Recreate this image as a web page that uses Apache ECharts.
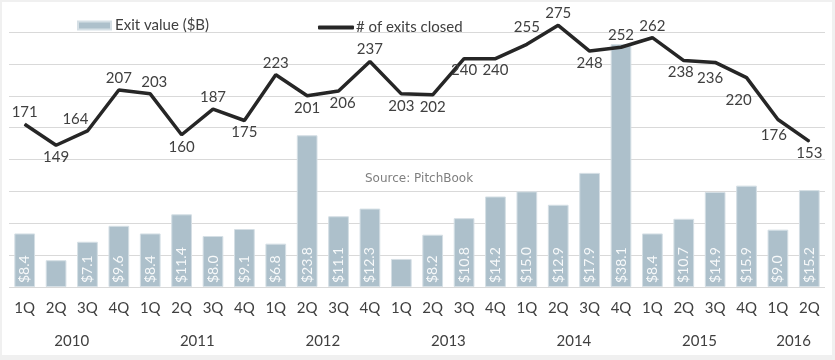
<!DOCTYPE html>
<html>
<head>
<meta charset="utf-8">
<script src="https://cdn.jsdelivr.net/npm/echarts@6/dist/echarts.min.js"></script>
<style>
html,body{margin:0;padding:0;background:#f0f0f0;width:835px;height:360px;overflow:hidden;}
#chart{position:absolute;left:2px;top:2px;width:830px;height:353px;background:#fff;}
</style>
</head>
<body>
<div id="chart"></div>
<script>
// ---- data ----
const quarters = ['1Q','2Q','3Q','4Q','1Q','2Q','3Q','4Q','1Q','2Q','3Q','4Q','1Q','2Q','3Q','4Q','1Q','2Q','3Q','4Q','1Q','2Q','3Q','4Q','1Q','2Q'];
const years = ['2010','2011','2012','2013','2014','2015','2016'];
const quartersPerYear = [4,4,4,4,4,4,2];
const exitValue = [8.4,4.2,7.1,9.6,8.4,11.4,8.0,9.1,6.8,23.8,11.1,12.3,4.4,8.2,10.8,14.2,15.0,12.9,17.9,38.1,8.4,10.7,14.9,15.9,9.0,15.2];
const exitsClosed = [171,149,164,207,203,160,187,175,223,201,206,237,203,202,240,240,255,275,248,252,262,238,236,220,176,153];

// ---- label placement (style) ----
const linePos = ['top','bottom','top','top','top','bottom','top','bottom','top','bottom','bottom','top','bottom','bottom','bottom','bottom','top','top','bottom','top','top','bottom','bottom','bottom','bottom','bottom'];
const lineOff = {2:[-12,0],4:[4,0],10:[4,0],16:[0,-5],21:[-3,0],22:[-5,4],23:[-8,10],24:[-4,4]};

// year centres on a continuous 0..N axis
const yearCenter = {};
let acc = 0;
quartersPerYear.forEach((n, i) => { yearCenter[acc + n / 2] = years[i]; acc += n; });

const FONT = 'Lato';
const chart = echarts.init(document.getElementById('chart'), null, {renderer: 'canvas'});
chart.setOption({
  animation: false,
  textStyle: {fontFamily: FONT},
  title: {
    text: 'Source: PitchBook',
    left: 358, top: 166,
    textStyle: {fontFamily: 'DejaVu Sans', fontSize: 12, fontWeight: 'normal', color: '#7f7f7f'}
  },
  legend: [
    {
      data: [{name: 'Exit value ($B)', icon: 'rect'}],
      left: 70, top: 11, itemWidth: 33, itemHeight: 8, itemGap: 4,
      textStyle: {fontFamily: FONT, fontSize: 15, color: '#404040', padding: [0,0,0,-1]}
    },
    {
      data: [{name: '# of exits closed', icon: 'roundRect', itemStyle: {color: '#262626'}}],
      left: 311, top: 13, itemWidth: 36, itemHeight: 4,
      textStyle: {fontFamily: FONT, fontSize: 15, color: '#404040', padding: [0,0,0,-3]}
    }
  ],
  grid: {left: 7, right: 7, top: 30, bottom: 68},
  xAxis: [
    {
      type: 'category', data: quarters,
      axisLine: {show: false}, axisTick: {show: false},
      axisLabel: {fontFamily: FONT, fontSize: 15, color: '#404040', margin: 14, interval: 0}
    },
    {
      type: 'value', min: 0, max: quarters.length, interval: 1,
      position: 'bottom', offset: 33,
      axisLine: {show: false}, axisTick: {show: false}, splitLine: {show: false},
      axisLabel: {
        fontFamily: FONT, fontSize: 15, color: '#404040', margin: 14,
        showMinLabel: true, showMaxLabel: true,
        formatter: v => yearCenter[v] || ''
      }
    }
  ],
  yAxis: [
    {
      type: 'value', min: 0, max: 40, interval: 5,
      axisLabel: {show: false}, axisLine: {show: false}, axisTick: {show: false},
      splitLine: {lineStyle: {color: '#d9d9d9', width: 1}}
    },
    {
      type: 'value', min: 0, max: 268,
      axisLabel: {show: false}, axisLine: {show: false}, axisTick: {show: false},
      splitLine: {show: false}
    }
  ],
  series: [
    {
      name: 'Exit value ($B)', type: 'bar', data: exitValue,
      xAxisIndex: 0, yAxisIndex: 0, barWidth: '66%',
      itemStyle: {color: '#adc0cb', borderColor: '#d5dfe5', borderWidth: 1},
      label: {
        show: true, position: 'insideBottom', rotate: 90, align: 'left', verticalAlign: 'middle',
        distance: 4, fontFamily: FONT, fontSize: 14, color: '#f7f9fa',
        formatter: p => p.value >= 5 ? '$' + p.value.toFixed(1) : ''
      },
      z: 2
    },
    {
      name: '# of exits closed', type: 'line', data: exitsClosed.map((v, i) => ({
        value: v,
        label: {position: linePos[i], offset: lineOff[i] || [0,0]}
      })),
      xAxisIndex: 0, yAxisIndex: 1,
      symbol: 'circle', symbolSize: 1, showSymbol: true, clip: false,
      lineStyle: {color: '#262626', width: 3.5},
      itemStyle: {color: '#262626'},
      label: {show: true, fontFamily: FONT, fontSize: 15, color: '#404040', distance: 4},
      z: 3
    }
  ]
});
</script>
</body>
</html>
